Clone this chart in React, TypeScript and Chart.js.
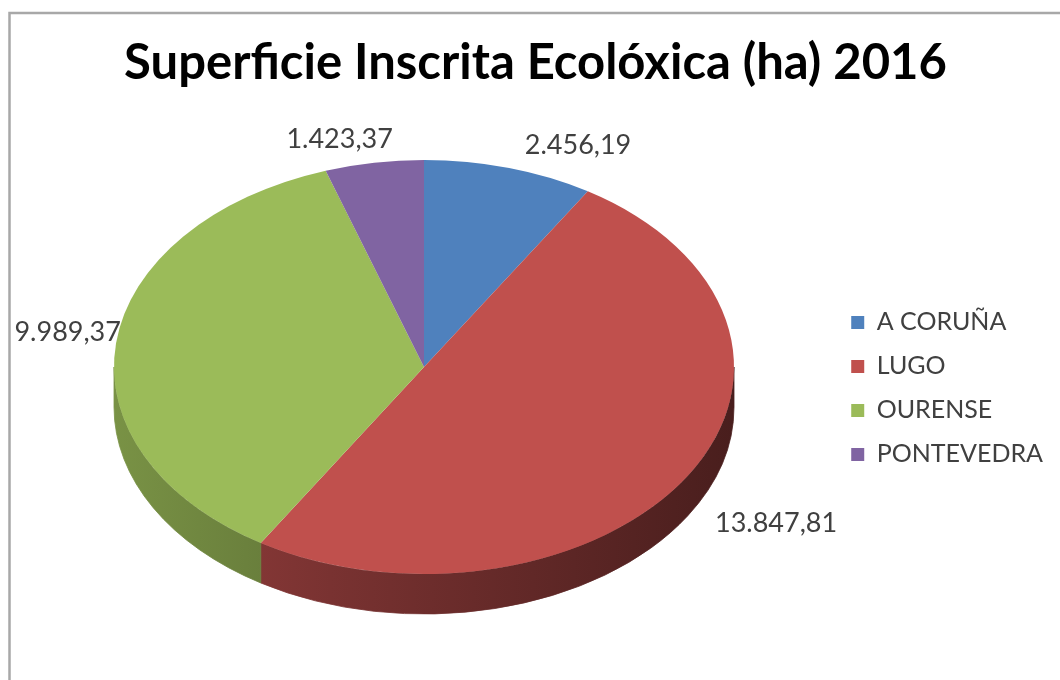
import React, { useEffect, useRef } from "react";
import { Chart, registerables } from "chart.js";

Chart.register(...registerables);

const TITLE = "Superficie Inscrita Ecolóxica (ha) 2016";
const provinces = ["A CORUÑA", "LUGO", "OURENSE", "PONTEVEDRA"];
const hectares = [2456.19, 13847.81, 9989.37, 1423.37];
const topColors = ["#4F81BD", "#C0504D", "#9BBB59", "#8064A2"];

function formatEs(v: number): string {
  const [i, d] = v.toFixed(2).split(".");
  return i.replace(/\B(?=(\d{3})+(?!\d))/g, ".") + "," + d;
}

function shade(hex: string, f: number): string {
  const n = parseInt(hex.slice(1), 16);
  const r = Math.round(((n >> 16) & 255) * f);
  const g = Math.round(((n >> 8) & 255) * f);
  const b = Math.round((n & 255) * f);
  return `rgb(${r},${g},${b})`;
}

const framePlugin = {
  id: "frame",
  beforeDraw(chart: any) {
    const ctx = chart.ctx;
    ctx.save();
    ctx.fillStyle = "#ffffff";
    ctx.fillRect(0, 0, chart.width, chart.height);
    ctx.strokeStyle = "#a8a8a8";
    ctx.lineWidth = 2.5;
    ctx.beginPath();
    ctx.moveTo(9.5, chart.height + 5);
    ctx.lineTo(9.5, 13);
    ctx.lineTo(chart.width + 5, 13);
    ctx.stroke();
    ctx.restore();
  },
};

const pie3dPlugin = {
  id: "pie3d",
  beforeDatasetsDraw(chart: any, _args: any, opts: any) {
    const meta = chart.getDatasetMeta(0);
    const arcs = meta.data;
    const ctx = chart.ctx;
    ctx.save();
    if (!arcs.length) return;
    const { x, y, outerRadius } = arcs[0].getProps(["x", "y", "outerRadius"], true);
    const { cx, cy, rx, ry, depth } = opts;
    const colors = chart.data.datasets[0].backgroundColor as string[];
    const TWO = Math.PI * 2;
    arcs.forEach((arc: any, i: number) => {
      const { startAngle, endAngle } = arc.getProps(["startAngle", "endAngle"], true);
      for (const k of [-1, 0, 1]) {
        const lo = Math.max(startAngle, k * TWO);
        const hi = Math.min(endAngle, k * TWO + Math.PI);
        if (hi <= lo) continue;
        const grad = ctx.createLinearGradient(cx - rx, 0, cx + rx, 0);
        grad.addColorStop(0, shade(colors[i], 0.78));
        grad.addColorStop(0.35, shade(colors[i], 0.63));
        grad.addColorStop(1, shade(colors[i], 0.38));
        ctx.beginPath();
        ctx.ellipse(cx, cy, rx, ry, 0, lo, hi, false);
        ctx.lineTo(cx + rx * Math.cos(hi), cy + depth + ry * Math.sin(hi));
        ctx.ellipse(cx, cy + depth, rx, ry, 0, hi, lo, true);
        ctx.closePath();
        ctx.fillStyle = grad;
        ctx.fill();
        ctx.strokeStyle = grad;
        ctx.lineWidth = 0.8;
        ctx.stroke();
      }
    });
    ctx.translate(cx, cy);
    ctx.scale(rx / outerRadius, ry / outerRadius);
    ctx.translate(-x, -y);
  },
  afterDatasetsDraw(chart: any, _args: any, opts: any) {
    const ctx = chart.ctx;
    ctx.restore();
    const meta = chart.getDatasetMeta(0);
    const { cx, cy, rx, ry, depth, font, color, gap, shiftX, frontPush } = opts;
    const values = chart.data.datasets[0].data as number[];
    ctx.save();
    ctx.font = font;
    ctx.fillStyle = color;
    ctx.textAlign = "center";
    ctx.textBaseline = "middle";
    const clamp = (v: number) => Math.max(-1, Math.min(1, v));
    meta.data.forEach((arc: any, i: number) => {
      const { startAngle, endAngle } = arc.getProps(["startAngle", "endAngle"], true);
      const mid = (startAngle + endAngle) / 2;
      const ux = Math.cos(mid);
      const uy = Math.sin(mid);
      const text = formatEs(values[i]);
      const w = ctx.measureText(text).width;
      const h = 22;
      const px = cx + rx * ux;
      const py = cy + ry * uy + (uy > 0 ? depth * 0.6 : 0);
      const sx = clamp(ux * 4);
      const lx = px + sx * (w / 2 + gap * Math.abs(uy) + frontPush * Math.max(0, uy)) + shiftX;
      const ly = py + clamp(uy * 4) * (h / 2 + 12);
      ctx.fillText(text, lx, ly);
    });
    ctx.restore();
  },
};

export default function App() {
  const ref = useRef<HTMLCanvasElement | null>(null);
  useEffect(() => {
    if (!ref.current) return;
    const chart = new Chart(ref.current, {
      type: "pie",
      data: {
        labels: provinces,
        datasets: [
          {
            data: hectares,
            backgroundColor: topColors,
            borderWidth: 0,
            clip: false as any,
          },
        ],
      },
      options: {
        responsive: false,
        animation: false,
        events: [],
        layout: { padding: { top: 0, right: 7, bottom: 6, left: 18 } },
        plugins: {
          tooltip: { enabled: false },
          title: {
            display: true,
            text: TITLE,
            color: "#000000",
            font: { family: "Lato", size: 49, weight: "bold" },
            padding: { top: 34, bottom: 10 },
          },
          legend: {
            display: true,
            position: "right",
            align: "center",
            fullSize: false,
            labels: {
              boxWidth: 13,
              boxHeight: 13,
              padding: 19,
              color: "#404040",
              font: { family: "Lato", size: 25 },
            },
          },
          pie3d: {
            cx: 424,
            cy: 367,
            rx: 310,
            ry: 207,
            depth: 40,
            gap: 10,
            shiftX: 6,
            frontPush: 31,
            font: "27px Lato",
            color: "#404040",
          },
        } as any,
      },
      plugins: [framePlugin, pie3dPlugin],
    });
    return () => chart.destroy();
  }, []);
  return (
    <div style={{ position: "absolute", left: 0, top: 0, width: 1060, height: 680 }}>
      <canvas ref={ref} width={1060} height={680} style={{ display: "block" }} />
    </div>
  );
}
